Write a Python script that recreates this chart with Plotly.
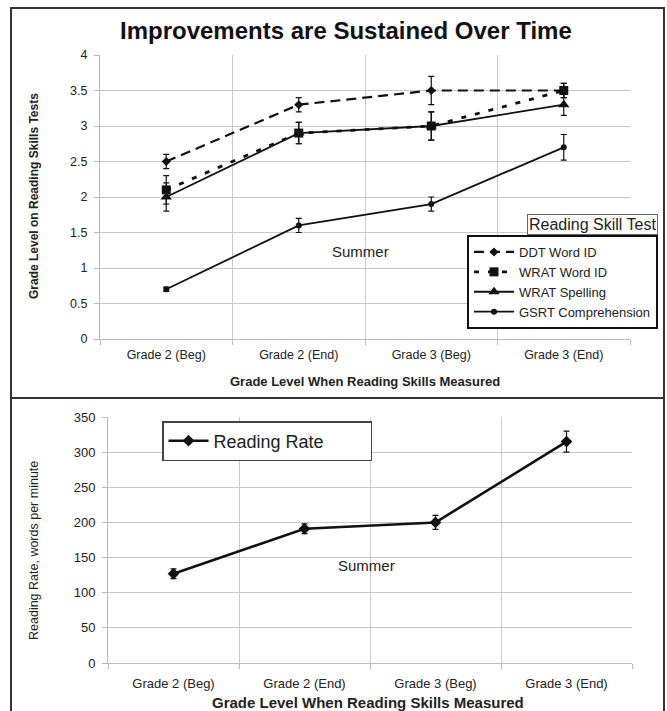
import plotly.graph_objects as go

W, H = 667, 711

categories = ["Grade 2 (Beg)", "Grade 2 (End)", "Grade 3 (Beg)", "Grade 3 (End)"]
xpos = [1, 2, 3, 4]

ddt_word = [2.5, 3.3, 3.5, 3.5]
ddt_err = [0.1, 0.1, 0.2, 0.1]
wrat_word = [2.1, 2.9, 3.0, 3.5]
wrat_word_err = [0.2, 0.15, 0.2, 0.1]
wrat_spell = [2.0, 2.9, 3.0, 3.3]
wrat_spell_err = [0.2, 0.15, 0.2, 0.15]
gsrt = [0.7, 1.6, 1.9, 2.7]
gsrt_err = [0.03, 0.1, 0.1, 0.18]

reading_rate = [127, 191, 200, 315]
reading_rate_err = [7, 7, 10, 15]

y_top_ticks = [0, 0.5, 1, 1.5, 2, 2.5, 3, 3.5, 4]
y_bot_ticks = [0, 50, 100, 150, 200, 250, 300, 350]

FONT = "Liberation Sans, Arial, sans-serif"
TXT = "#222222"
GRID = "#c9c9c9"


def px(x):
    return x / W


def py(y):
    return 1 - y / H


fig = go.Figure()


def err(arr):
    return dict(type="data", array=arr, visible=True, color="#111", thickness=1.2, width=3)


fig.add_trace(go.Scatter(x=xpos, y=ddt_word, name="DDT Word ID", mode="lines+markers",
                         line=dict(color="#111", width=2.2, dash="10px,6px"),
                         marker=dict(symbol="diamond", size=7, color="#111"),
                         error_y=err(ddt_err), xaxis="x", yaxis="y", legend="legend"))
fig.add_trace(go.Scatter(x=xpos, y=wrat_word, name="WRAT Word ID", mode="lines+markers",
                         line=dict(color="#111", width=2.8, dash="5px,9px"),
                         marker=dict(symbol="square", size=9, color="#111"),
                         error_y=err(wrat_word_err), xaxis="x", yaxis="y", legend="legend"))
fig.add_trace(go.Scatter(x=xpos, y=wrat_spell, name="WRAT Spelling", mode="lines+markers",
                         line=dict(color="#111", width=1.8),
                         marker=dict(symbol="triangle-up", size=10, color="#111"),
                         error_y=err(wrat_spell_err), xaxis="x", yaxis="y", legend="legend"))
fig.add_trace(go.Scatter(x=xpos, y=gsrt, name="GSRT Comprehension", mode="lines+markers",
                         line=dict(color="#111", width=1.8),
                         marker=dict(symbol="circle", size=6, color="#111"),
                         error_y=err(gsrt_err), xaxis="x", yaxis="y", legend="legend"))

fig.add_trace(go.Scatter(x=xpos, y=reading_rate, name="Reading Rate", mode="lines+markers",
                         line=dict(color="#111", width=2.6),
                         marker=dict(symbol="diamond", size=9, color="#111"),
                         error_y=err(reading_rate_err), xaxis="x2", yaxis="y2", legend="legend2"))

xcommon = dict(range=[0.5, 4.5], tickmode="array", tickvals=xpos, ticktext=categories,
               showgrid=False, zeroline=False, showline=True, linecolor="#bbbbbb", linewidth=1,
               ticks="", minor=dict(tick0=0.5, dtick=1, showgrid=True, gridcolor=GRID, gridwidth=1,
                                    ticks="outside", ticklen=5, tickcolor="#bbbbbb"),
               fixedrange=True, automargin=False)

fig.update_layout(
    width=W, height=H,
    margin=dict(l=0, r=0, t=0, b=0, pad=0, autoexpand=False),
    paper_bgcolor="white", plot_bgcolor="white",
    font=dict(family=FONT, color=TXT, size=12),
    xaxis=dict(domain=[px(100), px(630)], anchor="y", tickfont=dict(size=12.5, color=TXT),
               ticklabelstandoff=4, **xcommon),
    yaxis=dict(domain=[py(339), py(55)], anchor="x", range=[0, 4], tickvals=y_top_ticks,
               ticktext=[f"{v:g}" for v in y_top_ticks],
               showgrid=True, gridcolor=GRID, zeroline=False, showline=True, linecolor="#bbbbbb",
               ticks="outside", ticklen=5, tickcolor="#bbbbbb", automargin=False,
               tickfont=dict(size=12.5, color=TXT), ticklabelstandoff=4),
    xaxis2=dict(domain=[px(108), px(632)], anchor="y2", tickfont=dict(size=13, color=TXT),
                ticklabelstandoff=8, **xcommon),
    yaxis2=dict(domain=[py(663), py(417)], anchor="x2", range=[0, 350], tickvals=y_bot_ticks,
                showgrid=True, gridcolor=GRID, zeroline=False, showline=True, linecolor="#bbbbbb",
                ticks="outside", ticklen=5, tickcolor="#bbbbbb", automargin=False,
                tickfont=dict(size=13, color=TXT), ticklabelstandoff=4),
    legend=dict(x=px(658), xanchor="right", y=py(235), yanchor="top",
                bgcolor="white", bordercolor="#111", borderwidth=2,
                font=dict(size=13, color=TXT), itemwidth=40, tracegroupgap=0),
    legend2=dict(x=px(162), xanchor="left", y=py(421), yanchor="top", orientation="h",
                 bgcolor="white", bordercolor="#444", borderwidth=1.5,
                 font=dict(size=18, color=TXT), itemwidth=40, entrywidth=152),
    showlegend=True,
)

annotations = [
    dict(text="<b>Improvements are Sustained Over Time</b>", x=px(346), y=py(31),
         font=dict(size=24, color="#111", family=FONT)),
    dict(text="<b>Grade Level When Reading Skills Measured</b>", x=px(365), y=py(382),
         font=dict(size=13, color=TXT, family=FONT)),
    dict(text="<b>Grade Level When Reading Skills Measured</b>", x=px(368), y=py(702),
         font=dict(size=15, color=TXT, family=FONT)),
    dict(text="<b>Grade Level on Reading Skills Tests</b>", x=px(34), y=py(196), textangle=-90,
         font=dict(size=12, color=TXT, family=FONT)),
    dict(text="Reading Rate, words per minute", x=px(34), y=py(551), textangle=-90,
         font=dict(size=12.5, color=TXT, family=FONT)),
    dict(text="Summer", x=px(360), y=py(251),
         font=dict(size=15, color=TXT, family=FONT)),
    dict(text="Summer", x=px(366), y=py(565),
         font=dict(size=15, color=TXT, family=FONT)),
    dict(text="Reading Skill Test", x=px(658), xanchor="right", y=py(235), yanchor="bottom",
         bordercolor="#666", borderwidth=1, borderpad=1, bgcolor="white",
         font=dict(size=16, color=TXT, family=FONT)),
]
for a in annotations:
    a.setdefault("xref", "paper")
    a.setdefault("yref", "paper")
    a.setdefault("xanchor", "center")
    a.setdefault("yanchor", "middle")
    a.setdefault("showarrow", False)
    fig.add_annotation(**a)

frame = dict(color="#333", width=2)
fig.add_shape(type="rect", xref="paper", yref="paper", x0=px(11), x1=px(664), y0=py(398), y1=py(8),
              line=frame)
fig.add_shape(type="rect", xref="paper", yref="paper", x0=px(11), x1=px(664), y0=py(720), y1=py(398),
              line=frame)

post = (
    "document.documentElement.style.margin='0';"
    "document.documentElement.style.overflow='hidden';"
    "document.body.style.margin='0';document.body.style.padding='0';"
    "document.body.style.overflow='hidden';"
    "var gd=document.getElementById('{plot_id}');"
    "gd.style.position='absolute';gd.style.left='0px';gd.style.top='0px';"
)

fig.write_html("out.html", config={"displayModeBar": False}, post_script=post)
